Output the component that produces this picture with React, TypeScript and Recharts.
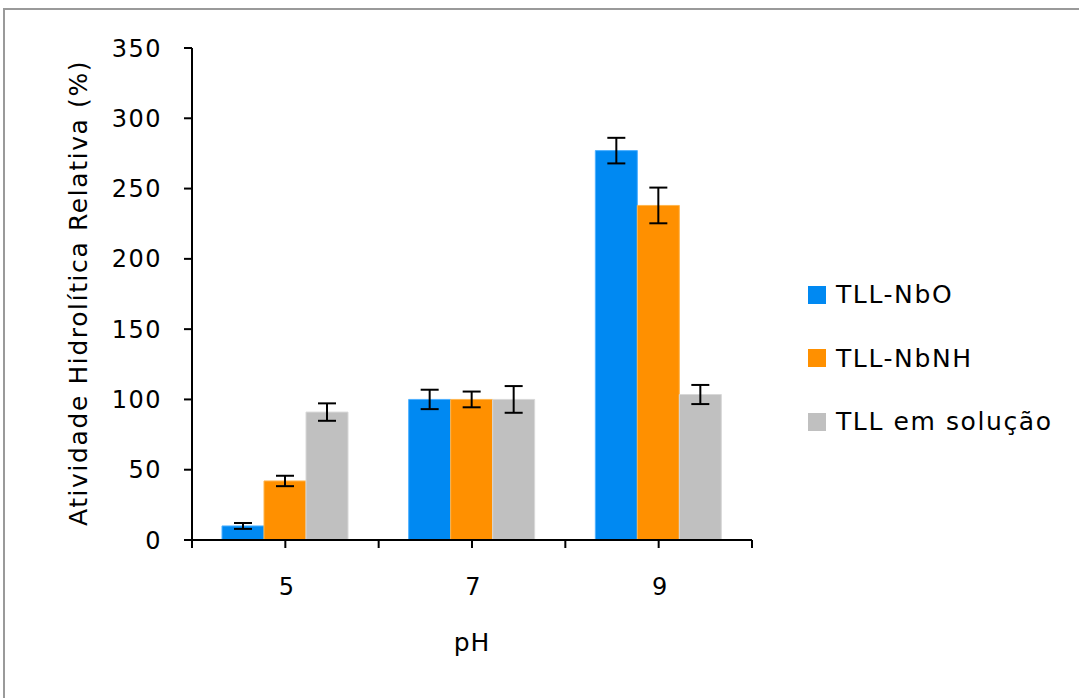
import React from "react";
import { BarChart, Bar, XAxis, YAxis, ErrorBar } from "recharts";

const phLabels = ["5", "7", "9"];
const nbO = [10, 100, 277];
const nbOErr = [2.1, 6.9, 9.1];
const nbNH = [42, 100, 238];
const nbNHErr = [3.7, 5.6, 12.7];
const solucao = [91, 100, 103.5];
const solucaoErr = [6.2, 9.5, 6.8];
const yTicks = [0, 50, 100, 150, 200, 250, 300, 350];

const seriesInfo = [
  { key: "nbO", err: "nbOErr", name: "TLL-NbO", color: "#0089F2", edge: "#4DB0FF" },
  { key: "nbNH", err: "nbNHErr", name: "TLL-NbNH", color: "#FF9000", edge: "#FFB54D" },
  { key: "sol", err: "solErr", name: "TLL em solução", color: "#C0C0C0", edge: "#D8D8D8" },
];

const data = phLabels.map((ph, i) => ({
  ph,
  nbO: nbO[i],
  nbOErr: nbOErr[i],
  nbNH: nbNH[i],
  nbNHErr: nbNHErr[i],
  sol: solucao[i],
  solErr: solucaoErr[i],
}));

const FONT = "'DejaVu Sans', sans-serif";
const W = 1079;
const H = 698;
const margin = { top: 48, right: 327, bottom: 48, left: 122 };
const halfBand = (W - margin.left - 70 - margin.right) / phLabels.length / 2;

// category tick: line at centre, line at left boundary, and one at the end of the axis
const PhTick = (props: any) => {
  const { x, y, payload, index } = props;
  const last = index === phLabels.length - 1;
  return (
    <g>
      <line x1={x} x2={x} y1={y} y2={y + 8} stroke="#000" strokeWidth={2} />
      <line x1={x - halfBand} x2={x - halfBand} y1={y} y2={y + 8} stroke="#000" strokeWidth={2} />
      {last && <line x1={x + halfBand} x2={x + halfBand} y1={y} y2={y + 8} stroke="#000" strokeWidth={2} />}
      <text x={x + 1} y={y + 55} textAnchor="middle" fill="#000" fontSize={24} fontFamily={FONT}>
        {payload.value}
      </text>
    </g>
  );
};

export default function App() {
  return (
    <div style={{ position: "absolute", left: 0, top: 0, width: W, height: H, background: "#fff" }}>
      <div style={{ position: "absolute", left: 3, top: 8, width: W - 3, height: H - 8, borderTop: "2px solid #9a9a9a", borderLeft: "2px solid #9a9a9a" }} />
      <div style={{ position: "absolute", left: 0, top: 0 }}>
        <BarChart width={W} height={H} data={data} margin={margin} barGap={0} barSize={42}>
          <XAxis
            dataKey="ph"
            axisLine={{ stroke: "#000", strokeWidth: 2 }}
            tickLine={false}
            tickSize={0}
            tickMargin={0}
            tick={<PhTick />}
            height={110}
            interval={0}
            label={() => (
              <text x={472} y={651} textAnchor="middle" fill="#000" fontSize={25} fontFamily={FONT} letterSpacing={1}>pH</text>
            )}
          />
          <YAxis
            width={70}
            domain={[0, 350]}
            ticks={yTicks}
            interval={0}
            axisLine={{ stroke: "#000", strokeWidth: 2 }}
            tickLine={{ stroke: "#000", strokeWidth: 2 }}
            tickSize={8}
            tickMargin={22}
            tick={{ fill: "#000", fontSize: 24, fontFamily: FONT, letterSpacing: 1.5 }}
            label={() => (
              <text
                x={78}
                y={293}
                transform="rotate(-90, 78, 293)"
                textAnchor="middle"
                dominantBaseline="central"
                fill="#000"
                fontSize={25}
                fontFamily={FONT}
                letterSpacing={1.6}
              >
                Atividade Hidrolítica Relativa (%)
              </text>
            )}
          />
          {seriesInfo.map((s) => (
            <Bar key={s.key} dataKey={s.key} name={s.name} fill={s.color} stroke={s.edge} strokeWidth={1} isAnimationActive={false}>
              <ErrorBar dataKey={s.err} width={9} stroke="#000" strokeWidth={2} direction="y" />
            </Bar>
          ))}
        </BarChart>
      </div>
      {/* legend */}
      <div style={{ position: "absolute", left: 808, top: 263, fontFamily: FONT, fontSize: 25, color: "#000", letterSpacing: 1.6 }}>
        {seriesInfo.map((s) => (
          <div key={s.key} style={{ display: "flex", alignItems: "center", height: 63.5 }}>
            <span style={{ display: "inline-block", width: 18, height: 18, background: s.color, marginRight: 10 }} />
            <span>{s.name}</span>
          </div>
        ))}
      </div>
    </div>
  );
}
